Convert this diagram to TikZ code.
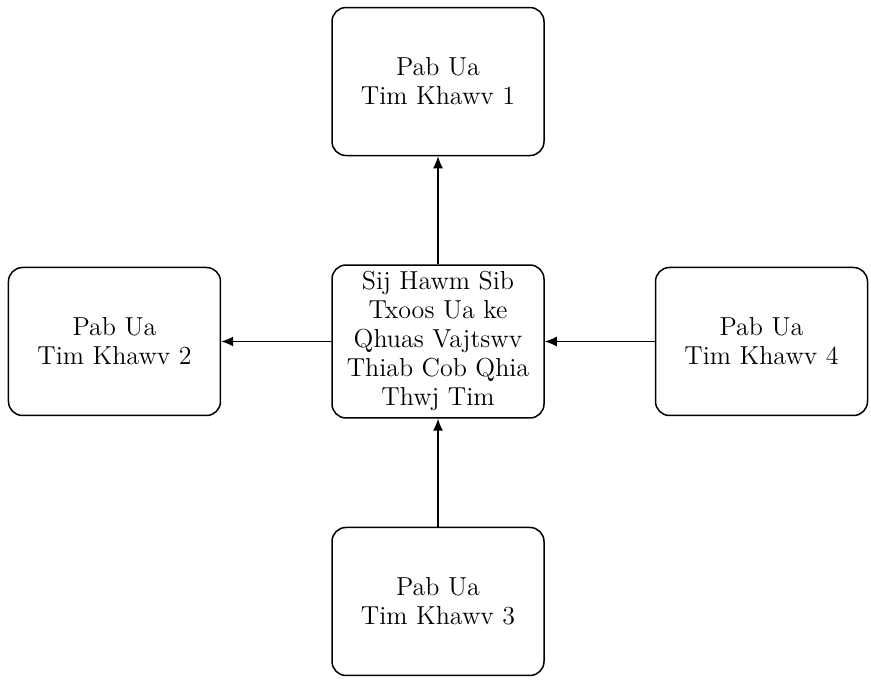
\documentclass[tikz,border=0pt]{standalone}
\usetikzlibrary{positioning, arrows.meta}

\begin{document}
\begin{tikzpicture}[
        node distance=54pt and 55pt,
        tier/.style={rectangle, draw, line width=0.75pt, align=center, minimum width=106pt, minimum height=74pt, rounded corners=7pt, font=\fontsize{13}{14.5}\selectfont},
        arrow/.style={draw, line width=0.55pt, -{Latex[length=6pt, width=5pt]}}
    ]
    \useasboundingbox (-219pt,-168.75pt) rectangle (216.5pt,170.75pt);

    % Nodes
    \node (hub) [tier] {Sij Hawm Sib\\ Txoos Ua ke\\ Qhuas Vajtswv\\ Thiab Cob Qhia\\ Thwj Tim};
    \node (group1) [tier, above=of hub] {Pab Ua\\ Tim Khawv 1};
    \node (group2) [tier, left=of hub] {Pab Ua\\ Tim Khawv 2};
    \node (group3) [tier, below=of hub] {Pab Ua\\ Tim Khawv 3};
    \node (group4) [tier, right=of hub] {Pab Ua\\ Tim Khawv 4};

    % Arrows
    \draw [arrow] (hub) -- (group1);
    \draw [arrow] (hub) -- (group2);
    \draw [arrow] (group3) -- (hub);
    \draw [arrow] (group4) -- (hub);

\end{tikzpicture}
\end{document}
